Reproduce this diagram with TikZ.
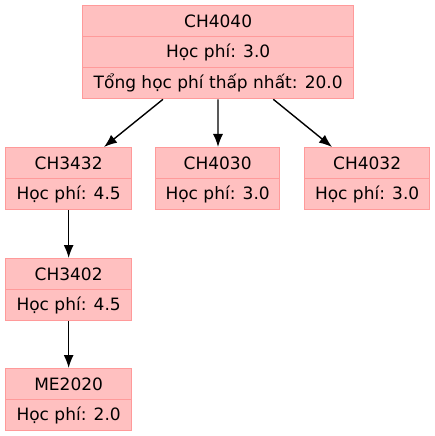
\documentclass[tikz,border=0pt]{standalone}
\usepackage{fontspec}
\setmainfont{DejaVu Sans}
\usetikzlibrary{arrows.meta}
\definecolor{cellfill}{HTML}{FFC0C0}
\definecolor{celldraw}{HTML}{FF9A9A}
\tikzset{
  cell/.style={draw=celldraw, fill=cellfill, line width=1.3bp, inner sep=0pt,
    font=\fontsize{17bp}{20bp}\selectfont, text=black, anchor=north west},
  edge/.style={line width=1.4bp, draw=black, -{Latex[length=13bp,width=10bp]}}
}
\newcommand{\cellat}[6]{% name, x1, y1, x2, y2, text
  \node[cell, minimum width={(#4-#2)*1bp}, minimum height={(#5-#3)*1bp}] (#1) at (#2,#3) {#6};}
\begin{document}
\begin{tikzpicture}[x=1bp,y=-1bp]
\useasboundingbox (0,0) rectangle (435,436);
% CH4040
\cellat{a1}{82}{5}{353}{36}{CH4040}
\cellat{a2}{82}{36}{353}{67}{Học phí: 3.0}
\cellat{a3}{82}{67}{353}{98}{Tổng học phí thấp nhất: 20.0}
% CH3432
\cellat{b1}{5}{147}{131}{178}{CH3432}
\cellat{b2}{5}{178}{131}{209}{Học phí: 4.5}
% CH4030
\cellat{c1}{155}{147}{279}{178}{CH4030}
\cellat{c2}{155}{178}{279}{209}{Học phí: 3.0}
% CH4032
\cellat{d1}{304}{147}{429}{178}{CH4032}
\cellat{d2}{304}{178}{429}{209}{Học phí: 3.0}
% CH3402
\cellat{e1}{5}{258}{131}{289}{CH3402}
\cellat{e2}{5}{289}{131}{320}{Học phí: 4.5}
% ME2020
\cellat{f1}{5}{368}{131}{399}{ME2020}
\cellat{f2}{5}{399}{131}{430}{Học phí: 2.0}
% edges
\draw[edge] ([xshift=81bp]a3.south west) -- ([xshift=99bp]b1.north west);
\draw[edge] ([xshift=136bp]a3.south west) -- ([xshift=63bp]c1.north west);
\draw[edge] ([xshift=-81bp]a3.south east) -- ([xshift=28bp]d1.north west);
\draw[edge] (b2.south) -- (e1.north);
\draw[edge] (e2.south) -- (f1.north);
\end{tikzpicture}
\end{document}
